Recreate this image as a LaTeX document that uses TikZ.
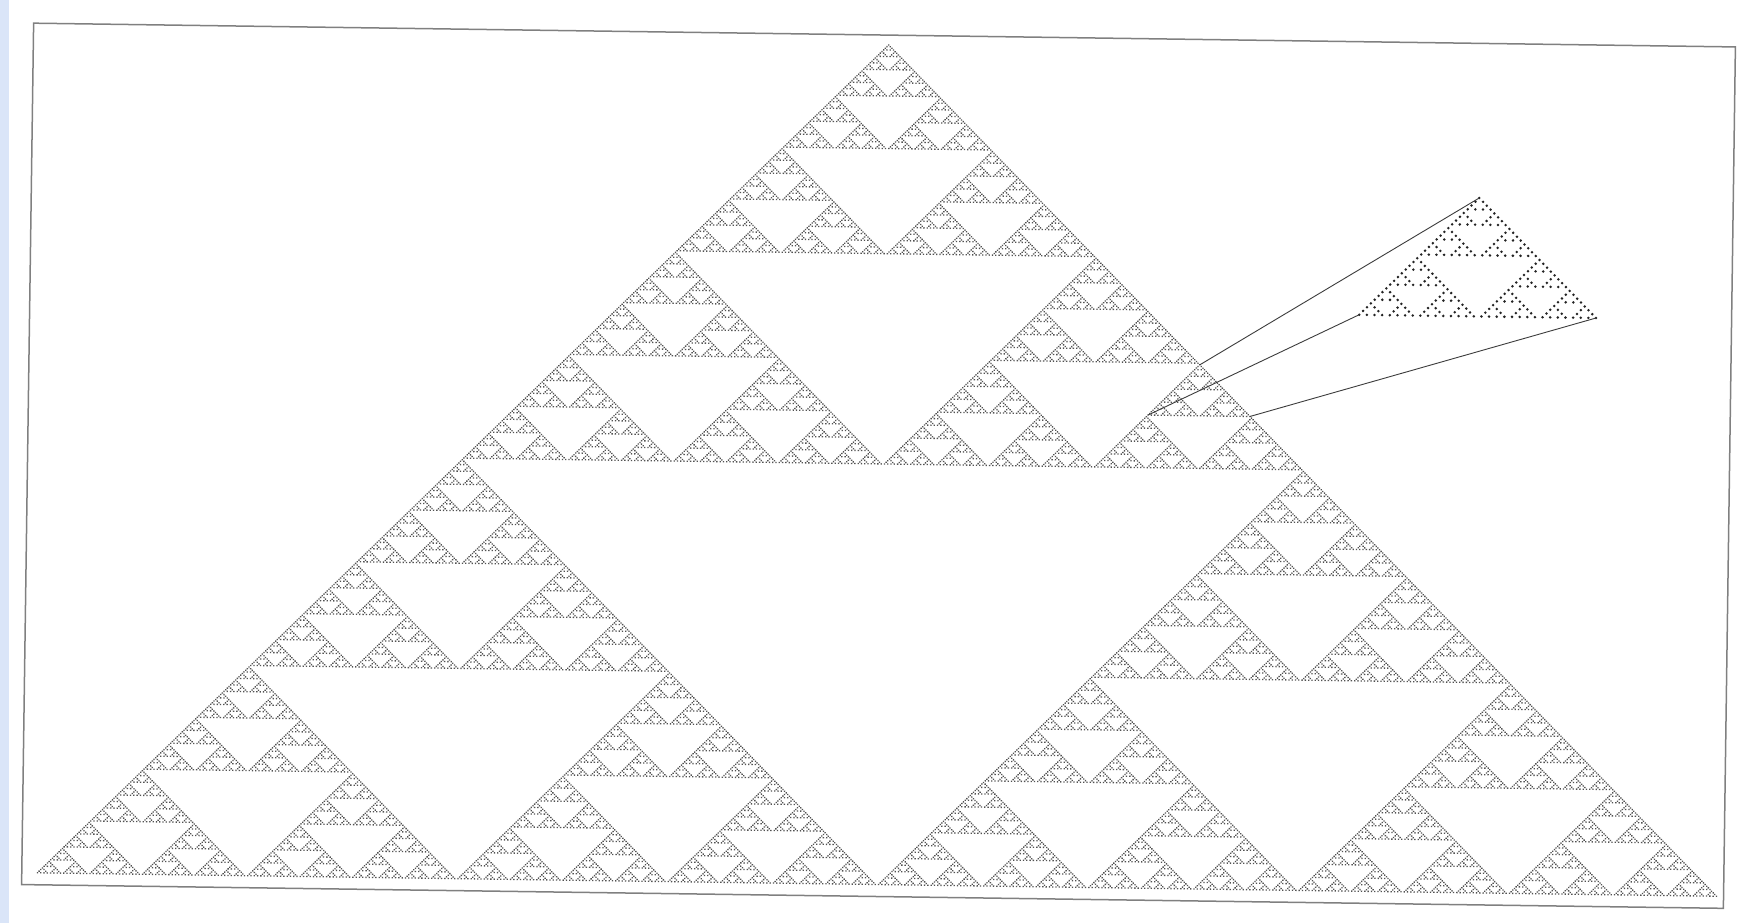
\documentclass[tikz,border=0pt]{standalone}
\definecolor{framegray}{RGB}{128,128,128}
\definecolor{linegray}{RGB}{60,60,60}
\definecolor{smalldot}{RGB}{35,35,35}
\definecolor{scanblue}{RGB}{218,229,248}
\makeatletter
\def\SPinvoke#1{\pgfsys@invoke{#1}}
\makeatother
% big triangle: rule 90 dots on an integer grid, written as compact PDF code
\def\SPbuf{}
\def\SPrec#1#2#3#4{%
  \ifnum#1=0
    \xdef\SPbuf{\SPbuf#2 #3 .8 .8 re }%
  \else
    \ifnum#1=3
      \gdef\SPbuf{}\SPrecB{#1}{#2}{#3}{#4}\SPinvoke{\SPbuf f}%
    \else
      \SPrecB{#1}{#2}{#3}{#4}%
    \fi
  \fi}
\def\SPrecB#1#2#3#4{%
  \edef\SPnext{%
    \noexpand\SPrec{\the\numexpr#1-1\relax}{#2}{#3}{\the\numexpr#4/2\relax}%
    \noexpand\SPrec{\the\numexpr#1-1\relax}{\the\numexpr#2-#4\relax}{\the\numexpr#3-#4\relax}{\the\numexpr#4/2\relax}%
    \noexpand\SPrec{\the\numexpr#1-1\relax}{\the\numexpr#2+#4\relax}{\the\numexpr#3-#4\relax}{\the\numexpr#4/2\relax}}%
  \SPnext}
% magnified inset: pgf circles
\def\SQrec#1#2#3#4{%
  \ifnum#1=0
    \pgfpathcircle{\pgfqpoint{#2}{#3}}{1.4pt}%
  \else
    \edef\SQnext{%
      \noexpand\SQrec{\the\numexpr#1-1\relax}{#2}{#3}{\the\dimexpr#4/2\relax}%
      \noexpand\SQrec{\the\numexpr#1-1\relax}{\the\dimexpr#2-#4\relax}{\the\dimexpr#3-#4\relax}{\the\dimexpr#4/2\relax}%
      \noexpand\SQrec{\the\numexpr#1-1\relax}{\the\dimexpr#2+#4\relax}{\the\dimexpr#3-#4\relax}{\the\dimexpr#4/2\relax}}%
    \SQnext
  \fi}
\tikzset{
  frame/.style={draw=framegray, line width=1.5pt},
  zoomline/.style={draw=linegray, line width=0.9pt},
}
\begin{document}
\begin{tikzpicture}[x=1pt,y=-1pt]
\useasboundingbox (0,0) rectangle (1758,923);
\fill[white] (0,0) rectangle (1758,923);
\fill[scanblue] (0,0) rectangle (9,923);
% big triangle (512 rows), rotated like the scan
\SPinvoke{q 0.996167 -0.013910 0.013910 0.996167 875.218 -463.761 cm 1.643 0 0 1.643 3.64 419.94 cm 0.32 g}
\SPrec{9}{0}{0}{256}
\SPinvoke{Q}
\begin{scope}[shift={(878.5,465.5)}, rotate=-0.8]
  % frame
  \draw[frame] (-851,-430.5) rectangle (851,431);
  % magnified inset: 32 rows, unit 3.82
  \begin{scope}
    \pgfsetfillcolor{smalldot}
    \SQrec{5}{597pt}{275.9pt}{61.12pt}
    \pgfusepath{fill}
  \end{scope}
  % corners of the source triangle and of the inset
  \coordinate (srcA) at (319.8,-105.1);
  \coordinate (srcL) at (268.8,-54.2);
  \coordinate (srcR) at (370.7,-54.2);
  \coordinate (insA) at (597,-275.9);
  \coordinate (insL) at (478.6,-157.5);
  \coordinate (insR) at (715.4,-157.5);
  \draw[zoomline] (srcA) -- (insA);
  \draw[zoomline] (srcL) -- (insL);
  \draw[zoomline] (srcR) -- (insR);
\end{scope}
\end{tikzpicture}
\end{document}
